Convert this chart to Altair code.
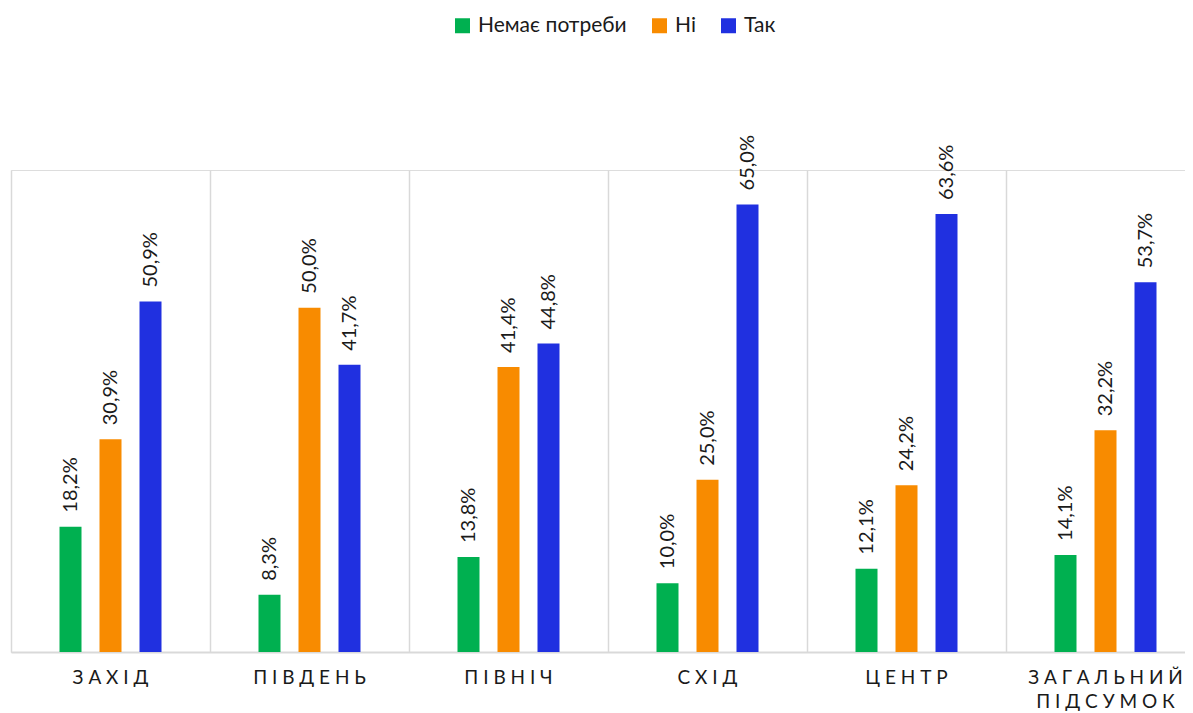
import altair as alt
import pandas as pd

categories = ["ЗАХІД", "ПІВДЕНЬ", "ПІВНІЧ", "СХІД", "ЦЕНТР", "ЗАГАЛЬНИЙ ПІДСУМОК"]
series = ["Немає потреби", "Ні", "Так"]
no_need = [18.2, 8.3, 13.8, 10.0, 12.1, 14.1]
no_vals = [30.9, 50.0, 41.4, 25.0, 24.2, 32.2]
yes_vals = [50.9, 41.7, 44.8, 65.0, 63.6, 53.7]
colors = ["#00b050", "#f88b00", "#2030e0"]


def spaced(name):
    return "|".join(" ".join(list(w)) for w in name.split(" "))


cat_labels = [spaced(c) for c in categories]

rows = []
for i, c in enumerate(cat_labels):
    for s, vals in zip(series, [no_need, no_vals, yes_vals]):
        v = vals[i]
        rows.append({"cat": c, "series": s, "value": v,
                     "label": f"{v:.1f}%".replace(".", ",")})
df = pd.DataFrame(rows)

base = alt.Chart(df).encode(
    x=alt.X("cat:N", sort=cat_labels, title=None,
            scale=alt.Scale(paddingInner=0, paddingOuter=0, range=[0, 1194]),
            axis=alt.Axis(labelAngle=0, labelFontSize=19, labelColor="#1a1a1a",
                          labelPadding=16, labelLineHeight=24,
                          labelExpr="split(datum.label, '|')",
                          ticks=False, grid=True, bandPosition=0,
                          gridColor="#d9d9d9", gridWidth=1.5,
                          domainColor="#d9d9d9", domainWidth=2)),
    xOffset=alt.XOffset("series:N", sort=series,
                        scale=alt.Scale(paddingInner=0.45, paddingOuter=0,
                                        range=[48.5, 150.5])),
    y=alt.Y("value:Q", axis=None, scale=alt.Scale(domain=[0, 70], nice=False)),
)

bars = base.mark_bar().encode(
    color=alt.Color("series:N", sort=series,
                    scale=alt.Scale(domain=series, range=colors),
                    legend=alt.Legend(title=None, orient="none", direction="horizontal",
                                      legendX=441, legendY=-155,
                                      symbolType="square", symbolSize=225,
                                      symbolStrokeWidth=0,
                                      labelFontSize=21, labelColor="#1a1a1a",
                                      labelOffset=5, columnPadding=22))
)

text = base.mark_text(angle=270, align="left", baseline="middle", dx=14,
                      fontSize=20, color="#1a1a1a").encode(text="label:N")

chart = (bars + text).properties(
    width=1174, height=482,
    autosize=alt.AutoSizeParams(type="none"),
    padding={"left": 3, "top": 162, "right": 0, "bottom": 60},
).configure_view(stroke=None).configure(font="Lato")

chart.save("out.html", embed_options={"renderer": "svg", "actions": False})
